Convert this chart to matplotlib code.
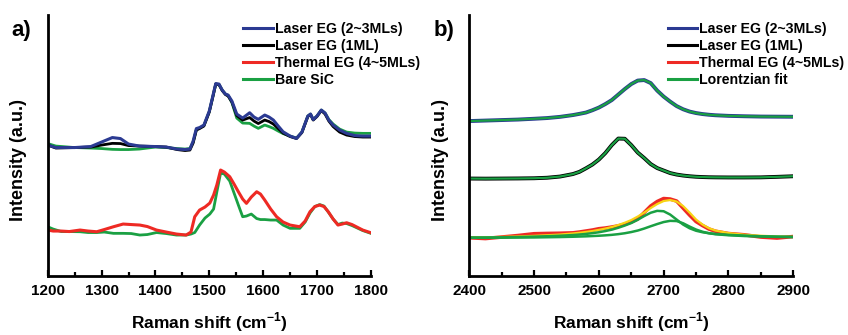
import matplotlib
matplotlib.use("Agg")
import matplotlib.pyplot as plt
from matplotlib.ticker import MultipleLocator

plt.rcParams['font.family'] = ['Liberation Sans', 'DejaVu Sans']
plt.rcParams['font.weight'] = 'bold'
plt.rcParams['mathtext.fontset'] = 'custom'
plt.rcParams['mathtext.rm'] = 'Liberation Sans:bold'
plt.rcParams['mathtext.bf'] = 'Liberation Sans:bold'

# ---------------- panel a) data ----------------
x_a_top = [1200, 1215, 1250, 1280, 1300, 1320, 1335, 1350, 1370, 1400, 1420, 1440, 1455, 1464,
           1470, 1476, 1482, 1490, 1500, 1507, 1512, 1518, 1524, 1530, 1535, 1542, 1551, 1562,
           1575, 1583, 1591, 1603, 1611, 1619, 1628, 1637, 1650, 1662, 1672, 1683, 1688, 1693,
           1700, 1708, 1715, 1722, 1730, 1742, 1755, 1770, 1785, 1800]
a_laser23 = [132, 129.5, 129.5, 130.5, 135, 139.5, 138.5, 133, 131, 130.5, 130, 128, 127.5, 128,
             136, 148.5, 149.5, 152, 166, 182, 193.5, 193, 187, 183, 182, 176, 163, 159,
             164.3, 160, 157.7, 162, 160, 157, 151, 145.3, 141, 138.7, 145, 161, 163, 157.5,
             161, 167, 164, 157, 152, 147, 143.7, 141.5, 141, 141]
a_laser1 = [132, 129, 129.5, 130, 132, 133.7, 133.5, 131.5, 131, 130.5, 130, 127.5, 126.5, 127,
            134, 147, 148.5, 151, 165, 181, 193, 192.5, 186.5, 182.5, 181, 175, 161.5, 157,
            159.5, 156, 153.5, 157, 155.5, 153, 148.5, 144, 140.5, 138.5, 144.5, 160.5, 162.5, 157,
            160.5, 166.5, 163, 156, 150.5, 145, 142, 140.5, 140, 140]
a_sic_top = [133.5, 131, 129.5, 129, 128.5, 127.7, 127.5, 127.5, 128, 130, 129.5, 128.5, 128, 128.5,
             135, 147.5, 149, 151.5, 165.5, 181.5, 193, 192.5, 187, 183, 181.5, 174.5, 159, 154,
             153.7, 151, 148.7, 152, 150.5, 148.7, 146, 143.5, 141, 139, 145, 161, 163, 157.5,
             161, 167, 164, 157.5, 153, 148, 145, 144, 143.7, 143.7]

x_a_bot = [1200, 1210, 1225, 1240, 1260, 1275, 1291, 1305, 1322, 1340, 1355, 1371, 1385, 1402,
           1420, 1439, 1457, 1466, 1473, 1482, 1492, 1501, 1508, 1514, 1521, 1528, 1538, 1546,
           1554, 1562, 1569, 1578, 1588, 1595, 1603, 1614, 1625, 1637, 1650, 1668, 1678, 1687,
           1696, 1705, 1713, 1721, 1730, 1739, 1747, 1755, 1765, 1773, 1785, 1800]
a_thermal = [47, 46, 46, 45.5, 47, 46, 45.3, 47.5, 50.3, 53, 52.5, 52, 50.5, 47,
             45, 43, 42, 45, 60.3, 67, 70, 74, 82, 92, 107, 105, 100.3, 93,
             85.3, 78, 73.7, 80, 85.3, 83, 77, 68, 60.3, 55, 52, 50.3, 56, 65.3,
             70.5, 72, 70.5, 65.3, 58, 52, 53, 54.3, 52.5, 50.3, 47, 44.3]
a_sic_bot = [50.3, 48, 45.5, 45.5, 45.3, 44.5, 44.5, 45, 43.7, 43.7, 43.5, 42, 42.5, 44.5,
             43.5, 42, 42, 43, 44.5, 52, 59, 63, 68, 85, 104, 103, 96, 84,
             72, 60.3, 61, 63, 58.5, 57.5, 57.5, 57, 57, 52, 48.7, 48.7, 55, 64,
             70.5, 72.5, 71, 65, 58, 52.5, 54, 53.5, 51.5, 49.5, 46.5, 43.7]

# ---------------- panel b) data ----------------
x_b = [2400, 2425, 2450, 2475, 2500, 2520, 2540, 2560, 2570, 2580, 2590, 2600, 2610, 2620,
       2630, 2640, 2650, 2660, 2670, 2680, 2690, 2700, 2710, 2720, 2730, 2740, 2750, 2760,
       2770, 2780, 2800, 2825, 2850, 2875, 2900]
b_laser23 = [156.0, 156.5, 157.0, 157.5, 158.3, 159.0, 160.2, 162.0, 163.2, 164.5, 166.8, 169.5,
             173.0, 177.0, 182.5, 188.0, 193.0, 196.5, 197.0, 194.0, 186.5, 180.5, 175.5, 171.0,
             167.8, 165.5, 164.0, 163.0, 162.3, 161.8, 161.2, 160.8, 160.5, 160.4, 160.3]
b_laser1 = [98.5, 98.4, 98.5, 98.6, 98.8, 99.3, 100.5, 103.0, 105.2, 108.7, 112.5, 117.5,
            124.0, 132.0, 138.5, 138.3, 132.0, 124.5, 119.0, 113.0, 109.0, 106.5, 104.0, 102.5,
            101.5, 100.8, 100.3, 100.0, 99.8, 99.7, 99.6, 99.6, 99.7, 100.2, 100.8]
b_thermal = [39.3, 38.5, 40.0, 41.5, 43.3, 43.6, 43.8, 44.2, 45.0, 46.0, 47.0, 48.3,
             49.0, 50.0, 51.2, 52.8, 55.0, 58.0, 64.5, 71.0, 75.5, 78.5, 78.0, 76.0,
             69.0, 62.0, 55.5, 51.5, 48.0, 45.8, 43.5, 42.2, 40.0, 39.0, 40.5]
b_thermal_fit = [39.5, 39.8, 40.1, 40.6, 41.2, 41.8, 42.5, 43.6, 44.3, 45.1, 46.0, 47.2,
                 48.5, 50.0, 52.0, 54.3, 57.0, 60.5, 64.5, 69.0, 73.0, 76.0, 77.0, 75.5,
                 71.0, 64.5, 57.5, 52.5, 48.8, 46.5, 44.0, 42.3, 41.3, 40.6, 40.2]
b_thermal_c1 = [39.4, 39.5, 39.7, 40.0, 40.4, 40.8, 41.3, 42.0, 42.5, 43.1, 43.9, 44.8,
                46.0, 47.4, 49.3, 51.5, 54.0, 57.3, 61.0, 64.3, 66.2, 65.8, 62.5, 57.5,
                52.5, 48.8, 46.3, 44.8, 43.8, 43.1, 42.2, 41.4, 40.8, 40.4, 40.1]
b_thermal_c2 = [39.3, 39.3, 39.4, 39.5, 39.6, 39.8, 40.0, 40.3, 40.5, 40.7, 41.0, 41.3,
                41.7, 42.2, 42.9, 43.8, 45.0, 46.5, 48.5, 50.8, 53.0, 55.0, 56.2, 56.0,
                53.8, 50.5, 47.5, 45.3, 43.8, 42.8, 41.8, 41.0, 40.5, 40.2, 40.0]

labels_a = ['Laser EG (2~3MLs)', 'Laser EG (1ML)', 'Thermal EG (4~5MLs)', 'Bare SiC']
labels_b = ['Laser EG (2~3MLs)', 'Laser EG (1ML)', 'Thermal EG (4~5MLs)', 'Lorentzian fit']

BLUE = '#2b3a92'
BLACK = '#000000'
RED = '#ee2a24'
GREEN = '#1aa043'
YELLOW = '#f7d414'

fig = plt.figure(figsize=(8.48, 3.35), dpi=100)
axa = fig.add_axes([0.0563, 0.176, 0.381, 0.779])
axb = fig.add_axes([0.5534, 0.176, 0.382, 0.779])


def style(ax, xlim, major):
    ax.set_xlim(*xlim)
    ax.set_ylim(1, 262)
    for s in ['top', 'right']:
        ax.spines[s].set_visible(False)
    for s in ['left', 'bottom']:
        ax.spines[s].set_linewidth(2.0)
    ax.xaxis.set_major_locator(MultipleLocator(major))
    ax.xaxis.set_minor_locator(MultipleLocator(major / 2))
    ax.tick_params(axis='x', which='major', direction='in', length=4, width=1.6,
                   labelsize=11, pad=6)
    ax.tick_params(axis='x', which='minor', direction='in', length=3, width=1.6)
    ax.set_yticks([])
    for t in ax.get_xticklabels():
        t.set_fontweight('bold')
    ax.set_xlabel(r'Raman shift (cm$^{\mathbf{-1}}$)', fontsize=12.5, fontweight='bold',
                  labelpad=9)
    ax.set_ylabel('Intensity (a.u.)', fontsize=13, fontweight='bold')
    ax.yaxis.set_label_coords(-0.064, 0.444)


# panel a
axa.plot(x_a_top, a_sic_top, color=GREEN, lw=2.0)
axa.plot(x_a_top, a_laser1, color=BLACK, lw=2.0)
axa.plot(x_a_top, a_laser23, color=BLUE, lw=2.2)
axa.plot(x_a_bot, a_sic_bot, color=GREEN, lw=2.0)
axa.plot(x_a_bot, a_thermal, color=RED, lw=2.2)
style(axa, (1200, 1800), 100)
handles_a = [plt.Line2D([], [], color=c, lw=2.2) for c in [BLUE, BLACK, RED, GREEN]]
axa.legend(handles_a, labels_a, loc='upper left', bbox_to_anchor=(0.605, 0.975),
           frameon=False, handlelength=2.1, handletextpad=0.15,
           labelspacing=0.22, borderpad=0, borderaxespad=0,
           prop={'weight': 'bold', 'size': 10.2})

# panel b
axb.plot(x_b, b_laser23, color=BLUE, lw=2.8)
axb.plot(x_b, b_laser23, color=GREEN, lw=1.6)
axb.plot(x_b, b_laser1, color=BLACK, lw=2.8)
axb.plot(x_b, b_laser1, color=GREEN, lw=1.6)
axb.plot(x_b, b_thermal, color=RED, lw=2.6)
axb.plot(x_b, b_thermal_fit, color=YELLOW, lw=1.6)
axb.plot(x_b, b_thermal_c1, color=GREEN, lw=1.8)
axb.plot(x_b, b_thermal_c2, color=GREEN, lw=1.8)
style(axb, (2400, 2900), 100)
handles_b = [plt.Line2D([], [], color=c, lw=2.2) for c in [BLUE, BLACK, RED, GREEN]]
axb.legend(handles_b, labels_b, loc='upper left', bbox_to_anchor=(0.612, 0.975),
           frameon=False, handlelength=2.1, handletextpad=0.15,
           labelspacing=0.22, borderpad=0, borderaxespad=0,
           prop={'weight': 'bold', 'size': 10.2})

fig.text(0.013, 0.94, 'a)', fontsize=16, fontweight='bold', va='top', ha='left')
fig.text(0.511, 0.94, 'b)', fontsize=16, fontweight='bold', va='top', ha='left')

fig.savefig('out.png', dpi=100)
